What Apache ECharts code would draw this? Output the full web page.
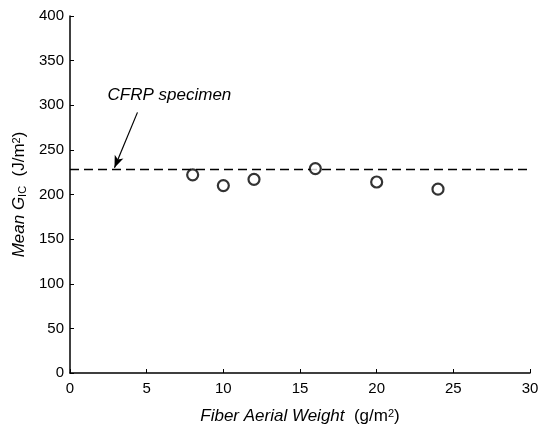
<!DOCTYPE html>
<html><head><meta charset="utf-8">
<script src="https://cdn.jsdelivr.net/npm/echarts@6/dist/echarts.min.js"></script>
<style>html,body{margin:0;padding:0;background:#fff}#c{width:555px;height:430px}</style>
</head><body><div id="c"></div>
<script>
const fiberWeight = [8, 10, 12, 16, 20, 24];
const meanGic = [222, 210, 217, 229, 214, 206];
const cfrpValue = 228;
const xTicks = [0, 5, 10, 15, 20, 25, 30];
const yTicks = [0, 50, 100, 150, 200, 250, 300, 350, 400];
const annotationText = 'CFRP specimen';
const annotationPos = [2.45, 311];
const arrowFrom = [4.4, 292];
const arrowTo = [2.9, 230];

const font = 'Liberation Sans, Arial, Helvetica, sans-serif';
const chart = echarts.init(document.getElementById('c'), null, {renderer: 'canvas'});
chart.setOption({
  animation: false,
  backgroundColor: '#fff',
  grid: {left: 70, right: 25, top: 16, bottom: 56},
  xAxis: {
    type: 'value', min: xTicks[0], max: xTicks[xTicks.length-1], interval: 5,
    axisLine: {lineStyle: {color: '#000', width: 1.5}},
    axisTick: {inside: true, length: 4, lineStyle: {color: '#000'}},
    axisLabel: {color: '#000', fontSize: 15, fontFamily: font, margin: 8},
    splitLine: {show: false},
    name: '{it|Fiber Aerial Weight}{n|  (g/m}{sup|2}{n|)}',
    nameLocation: 'middle', nameGap: 35,
    nameTextStyle: {rich: {
      it: {fontStyle: 'italic', fontSize: 17, fontFamily: font, color: '#000'},
      n: {fontSize: 17, fontFamily: font, color: '#000'},
      sup: {fontSize: 11, fontFamily: font, color: '#000', verticalAlign: 'top', lineHeight: 11}
    }}
  },
  yAxis: {
    type: 'value', min: yTicks[0], max: yTicks[yTicks.length-1], interval: 50,
    axisLine: {show: true, lineStyle: {color: '#000', width: 1.5}},
    axisTick: {show: true, inside: true, length: 4, lineStyle: {color: '#000'}},
    axisLabel: {color: '#000', fontSize: 15, fontFamily: font, margin: 6},
    splitLine: {show: false},
    name: '{it|Mean G}{sub|IC}{n|  (J/m}{sup|2}{n|)}',
    nameLocation: 'middle', nameGap: 41, nameRotate: 90,
    nameTextStyle: {rich: {
      it: {fontStyle: 'italic', fontSize: 17, fontFamily: font, color: '#000'},
      n: {fontSize: 17, fontFamily: font, color: '#000'},
      sub: {fontSize: 11, fontFamily: font, color: '#000', verticalAlign: 'bottom', lineHeight: 11},
      sup: {fontSize: 11, fontFamily: font, color: '#000', verticalAlign: 'top', lineHeight: 11}
    }}
  },
  series: [{
    type: 'scatter',
    data: fiberWeight.map((x, i) => [x, meanGic[i]]),
    symbol: 'circle', symbolSize: 11,
    itemStyle: {color: '#fff', borderColor: '#000', borderWidth: 2.2},
    z: 5,
    markLine: {
      silent: true, animation: false,
      label: {show: false},
      data: [
        [{coord: [xTicks[0], cfrpValue], symbol: 'none', lineStyle: {type: [9, 5], color: '#000', width: 1.3}},
         {coord: [xTicks[xTicks.length-1], cfrpValue], symbol: 'none'}],
        [{coord: arrowFrom, symbol: 'none', lineStyle: {type: 'solid', color: '#000', width: 1.2}},
         {coord: arrowTo, symbol: 'arrow', symbolSize: [7, 12]}]
      ]
    },
    markPoint: {
      silent: true,
      symbol: 'circle', symbolSize: 0,
      data: [{coord: annotationPos, value: annotationText}],
      label: {show: true, position: 'right', distance: 0, formatter: annotationText,
        fontStyle: 'italic', fontSize: 17, fontFamily: font, color: '#000'}
    }
  }]
});
</script></body></html>
